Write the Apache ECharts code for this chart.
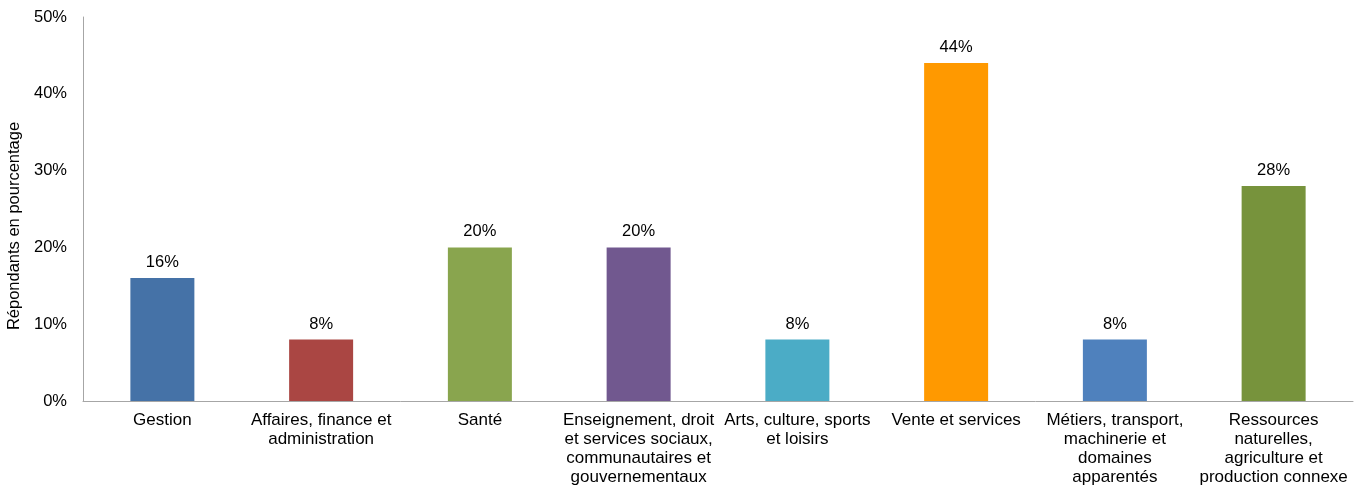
<!DOCTYPE html>
<html>
<head>
<meta charset="utf-8">
<script src="https://cdn.jsdelivr.net/npm/echarts@6/dist/echarts.min.js"></script>
<style>html,body{margin:0;padding:0;background:#fff;}#c{width:1354px;height:489px;}</style>
</head>
<body>
<div id="c"></div>
<script>
const categories = [
  "Gestion",
  "Affaires, finance et\nadministration",
  "Santé",
  "Enseignement, droit\net services sociaux,\ncommunautaires et\ngouvernementaux",
  "Arts, culture, sports\net loisirs",
  "Vente et services",
  "Métiers, transport,\nmachinerie et\ndomaines\napparentés",
  "Ressources\nnaturelles,\nagriculture et\nproduction connexe"
];
const values = [16, 8, 20, 20, 8, 44, 8, 28];
const barColors = ["#4572A7", "#AA4643", "#89A54E", "#71588F", "#4BACC6", "#FF9900", "#4F81BD", "#77933C"];
const yTicks = [0, 10, 20, 30, 40, 50];
const yAxisTitle = "Répondants en pourcentage";

const font = "Liberation Sans, Arial, sans-serif";
const chart = echarts.init(document.getElementById('c'));
chart.setOption({
  animation: false,
  grid: { left: 83, right: 1, top: 17, bottom: 88, containLabel: false, outerBoundsMode: 'none' },
  xAxis: {
    type: 'category',
    data: categories,
    axisLine: { lineStyle: { color: '#A6A6A6', width: 1 } },
    axisTick: { show: false },
    axisLabel: { interval: 0, color: '#000', fontFamily: font, fontSize: 17, lineHeight: 19, margin: 10 }
  },
  yAxis: {
    type: 'value',
    min: yTicks[0], max: yTicks[yTicks.length - 1], interval: 10,
    name: yAxisTitle,
    nameLocation: 'middle',
    nameGap: 53,
    nameRotate: 90,
    nameTextStyle: { color: '#000', fontFamily: font, fontSize: 16.5, padding: [0, 34, 0, 0] },
    axisLine: { show: true, lineStyle: { color: '#A6A6A6', width: 1 } },
    axisTick: { show: false },
    splitLine: { show: false },
    axisLabel: { formatter: '{value}%', color: '#000', fontFamily: font, fontSize: 16.5, margin: 16 }
  },
  series: [{
    type: 'bar',
    data: values.map((v, i) => ({ value: v, itemStyle: { color: barColors[i] } })),
    barWidth: 64,
    label: { show: true, position: 'top', distance: 7, formatter: '{c}%', color: '#000', fontFamily: font, fontSize: 16.5 }
  }]
});
</script>
</body>
</html>
